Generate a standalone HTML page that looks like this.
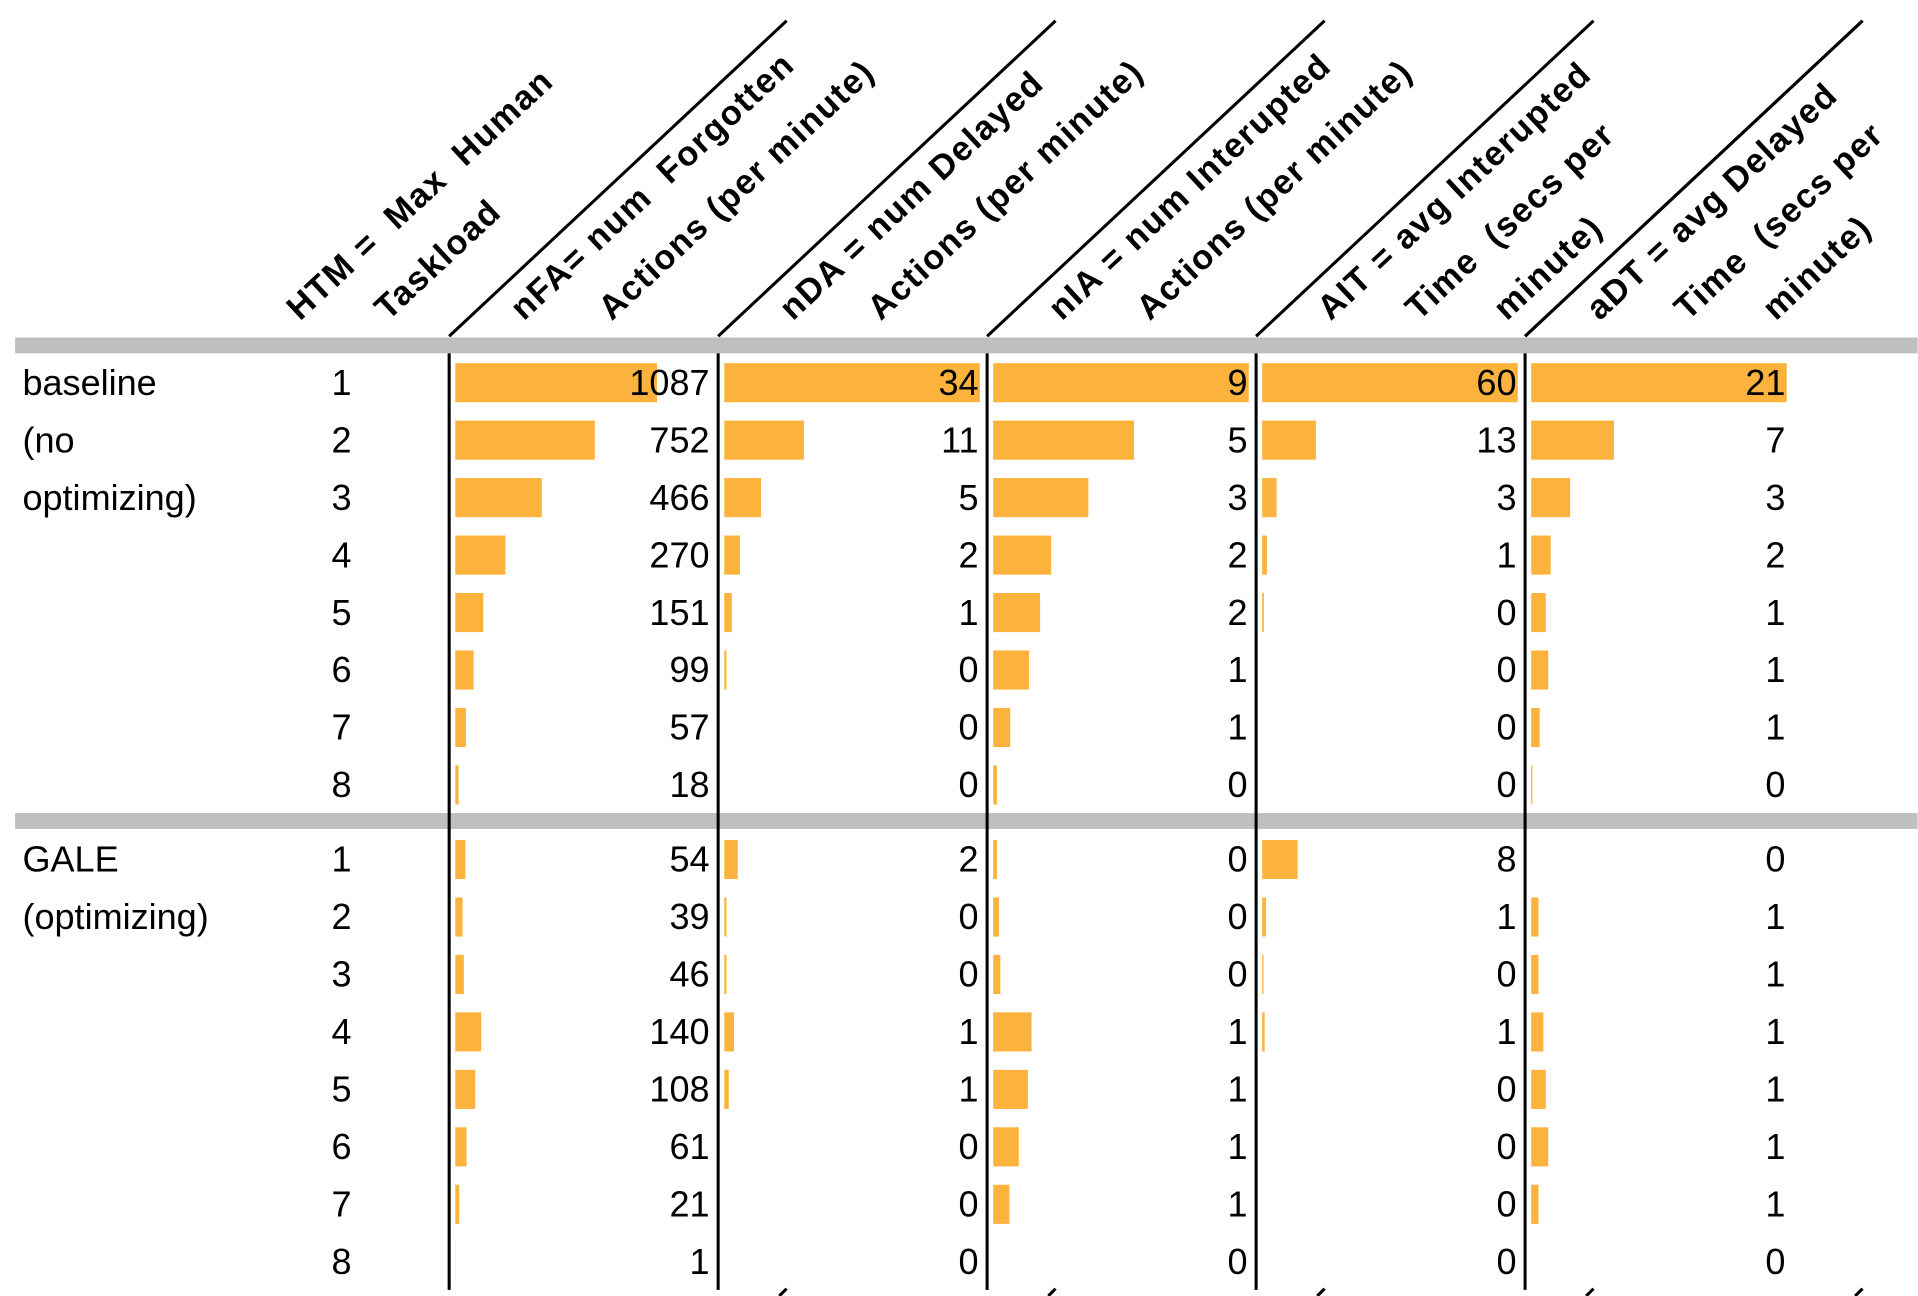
<!DOCTYPE html>
<html><head><meta charset="utf-8"><style>
html,body{margin:0;padding:0;background:#fff;}
svg{display:block;}
text{font-family:"Liberation Sans",sans-serif;fill:#000;white-space:pre;}
</style></head><body>
<svg id="chart" width="1918" height="1296" viewBox="0 0 1568 1060" xmlns="http://www.w3.org/2000/svg" xml:space="preserve">
<rect x="12" y="276" width="1556" height="13" fill="#bfbfbf"/>
<rect x="12" y="665" width="1556" height="13" fill="#bfbfbf"/>
<g id="labels" font-size="29.5">
<text x="18" y="323">baseline</text>
<text x="18" y="370">(no</text>
<text x="18" y="417">optimizing)</text>
<text x="18" y="713">GALE</text>
<text x="18" y="760">(optimizing)</text>
</g>
<g id="marks"></g>
</svg>
<script>
const htm = [1,2,3,4,5,6,7,8];
const groups = ["baseline","GALE"];
const headers1 = ["HTM =  Max  Human","nFA= num  Forgotten","nDA = num Delayed","nIA = num Interupted","AIT = avg Interupted","aDT = avg Delayed"];
const headers2 = ["Taskload","Actions (per minute)","Actions (per minute)","Actions (per minute)","Time  (secs per","Time  (secs per"];
const headers3 = ["","","","","minute)","minute)"];
const nFA_base = [1087,752,466,270,151,99,57,18];
const nFA_gale = [54,39,46,140,108,61,21,1];
const nDA_base = [34,10.6,4.9,2.1,1,0.3,0,0];
const nDA_gale = [1.8,0.3,0.3,1.3,0.6,0,0,0];
const nIA_base = [9,4.96,3.35,2.04,1.65,1.26,0.6,0.13];
const nIA_gale = [0.13,0.2,0.25,1.35,1.22,0.9,0.57,0];
const AIT_base = [60,12.6,3.4,1.1,0.4,0,0,0];
const AIT_gale = [8.3,0.9,0.3,0.57,0,0,0,0];
const aDT_base = [21,6.8,3.2,1.6,1.2,1.4,0.7,0.1];
const aDT_gale = [0,0.6,0.6,1,1.2,1.4,0.6,0];
const cols = [
  {name:"nFA", base:nFA_base, gale:nFA_gale},
  {name:"nDA", base:nDA_base, gale:nDA_gale},
  {name:"nIA", base:nIA_base, gale:nIA_gale},
  {name:"AIT", base:AIT_base, gale:AIT_gale},
  {name:"aDT", base:aDT_base, gale:aDT_gale}
];
const NS="http://www.w3.org/2000/svg";
const g=document.getElementById('marks');
function mk(tag,attrs){const e=document.createElementNS(NS,tag);for(const k in attrs)e.setAttribute(k,attrs[k]);g.appendChild(e);return e;}
const colX = i => 367 + 220*i;
const rowY = (grp,r) => (grp===0?313:703) + 47*r;
headers1.forEach((h,i)=>{
  const x1 = i===0 ? 245 : 428 + 220*(i-1);
  const lines=[headers1[i],headers2[i],headers3[i]];
  lines.forEach((t,j)=>{
    if(!t)return;
    const x=x1+72*j, y=263;
    const e=mk('text',{x:x,y:y,'font-size':28,'font-weight':'bold','letter-spacing':1.2,transform:`rotate(-43 ${x} ${y})`});
    
    
    e.textContent=t;
  });
});
for(let i=0;i<5;i++){
  const x=colX(i);
  const d=mk('line',{x1:x,y1:275,x2:x+276,y2:17,stroke:'#000','stroke-width':2.5});
  
  
  const v=mk('line',{x1:x,y1:289,x2:x,y2:1055,stroke:'#000','stroke-width':2.5});
  
  
  const t=mk('line',{x1:x+270,y1:1060,x2:x+276,y2:1054,stroke:'#000','stroke-width':2.5});
  
  
}
const d5=mk('line',{x1:1247,y1:275,x2:1523,y2:17,stroke:'#000','stroke-width':2.5});


groups.forEach((grp,gi)=>{
  htm.forEach((h,r)=>{
    const y=rowY(gi,r);
    const ht=mk('text',{x:279,y:y+10,'font-size':29.5,'text-anchor':'middle'});
    
    
    ht.textContent=h;
    cols.forEach((c,ci)=>{
      const arr = gi===0?c.base:c.gale;
      const maxV = Math.max(...c.base);
      const barMax = ci===0?165:209;
      const x0 = colX(ci)+5;
      const w = arr[r]/maxV*barMax;
      if(w>0){
        const b=mk('rect',{x:x0,y:y-16,width:w,height:32,fill:'#fbb33d'});
        
        
      }
      const tv=mk('text',{x:colX(ci)+213,y:y+10,'font-size':29.5,'text-anchor':'end'});
      
      
      tv.textContent=Math.round(arr[r]);
    });
  });
});
</script>
</body></html>
